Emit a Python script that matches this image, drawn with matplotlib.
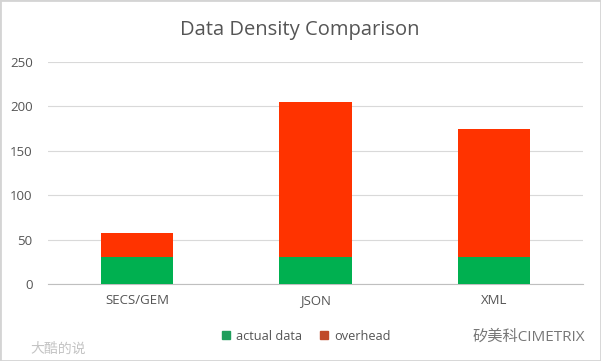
import matplotlib.pyplot as plt
from matplotlib.lines import Line2D
from matplotlib.patches import Rectangle

plt.rcParams['font.family'] = ['Open Sans', 'Noto Sans CJK SC', 'DejaVu Sans']

categories = ['SECS/GEM', 'JSON', 'XML']
actual_data = [30, 30, 30]
overhead = [27, 175, 145]
y_ticks = [0, 50, 100, 150, 200, 250]

fig = plt.figure(figsize=(6.01, 3.61), dpi=100, facecolor='white')
ax = fig.add_axes([48 / 601, 1 - 284 / 361, 535 / 601, 222 / 361], facecolor='white')

x = range(len(categories))
ax.bar(x, actual_data, width=0.405, color='#00b050', zorder=3)
ax.bar(x, overhead, width=0.405, bottom=actual_data, color='#ff3300', zorder=3)

ax.set_xlim(-0.5, 2.5)
ax.set_ylim(0, 250)
ax.set_xticks(list(x))
ax.set_xticklabels(categories, fontsize=9.5, color='#555555')
ax.set_yticks(y_ticks)
ax.tick_params(axis='both', length=0, labelsize=9.5, labelcolor='#555555')
ax.tick_params(axis='x', pad=7)
ax.tick_params(axis='y', pad=11)
ax.grid(axis='y', color='#d9d9d9', linewidth=0.8, zorder=0)
for side in ['top', 'left', 'right']:
    ax.spines[side].set_visible(False)
ax.spines['bottom'].set_color('#bfbfbf')

fig.text(300 / 601, 1 - 30 / 361, 'Data Density Comparison', ha='center', va='center',
         fontsize=14.5, color='#555555')

handles = [Line2D([], [], marker='s', linestyle='', color='#1f9e5c', markersize=6),
           Line2D([], [], marker='s', linestyle='', color='#c0492a', markersize=6)]
fig.legend(handles, ['actual data', 'overhead'], loc='center', bbox_to_anchor=(302 / 601, 1 - 336 / 361),
           ncol=2, frameon=False, fontsize=9.2, labelcolor='#555555', handletextpad=-0.2, columnspacing=0.7)

# image border
fig.add_artist(Rectangle((0, 0), 1, 1, transform=fig.transFigure, fill=False, edgecolor='#d4d4d4', linewidth=2))

# watermarks
fig.text(30 / 601, 1 - 349 / 361, '大酷的说', fontsize=10, color='#c4c4c4', va='center')
fig.text(472 / 601, 1 - 337 / 361, '矽美科CIMETRIX', fontsize=11, color='#777777', va='center')

fig.savefig('out.png', dpi=100, facecolor=fig.get_facecolor())
